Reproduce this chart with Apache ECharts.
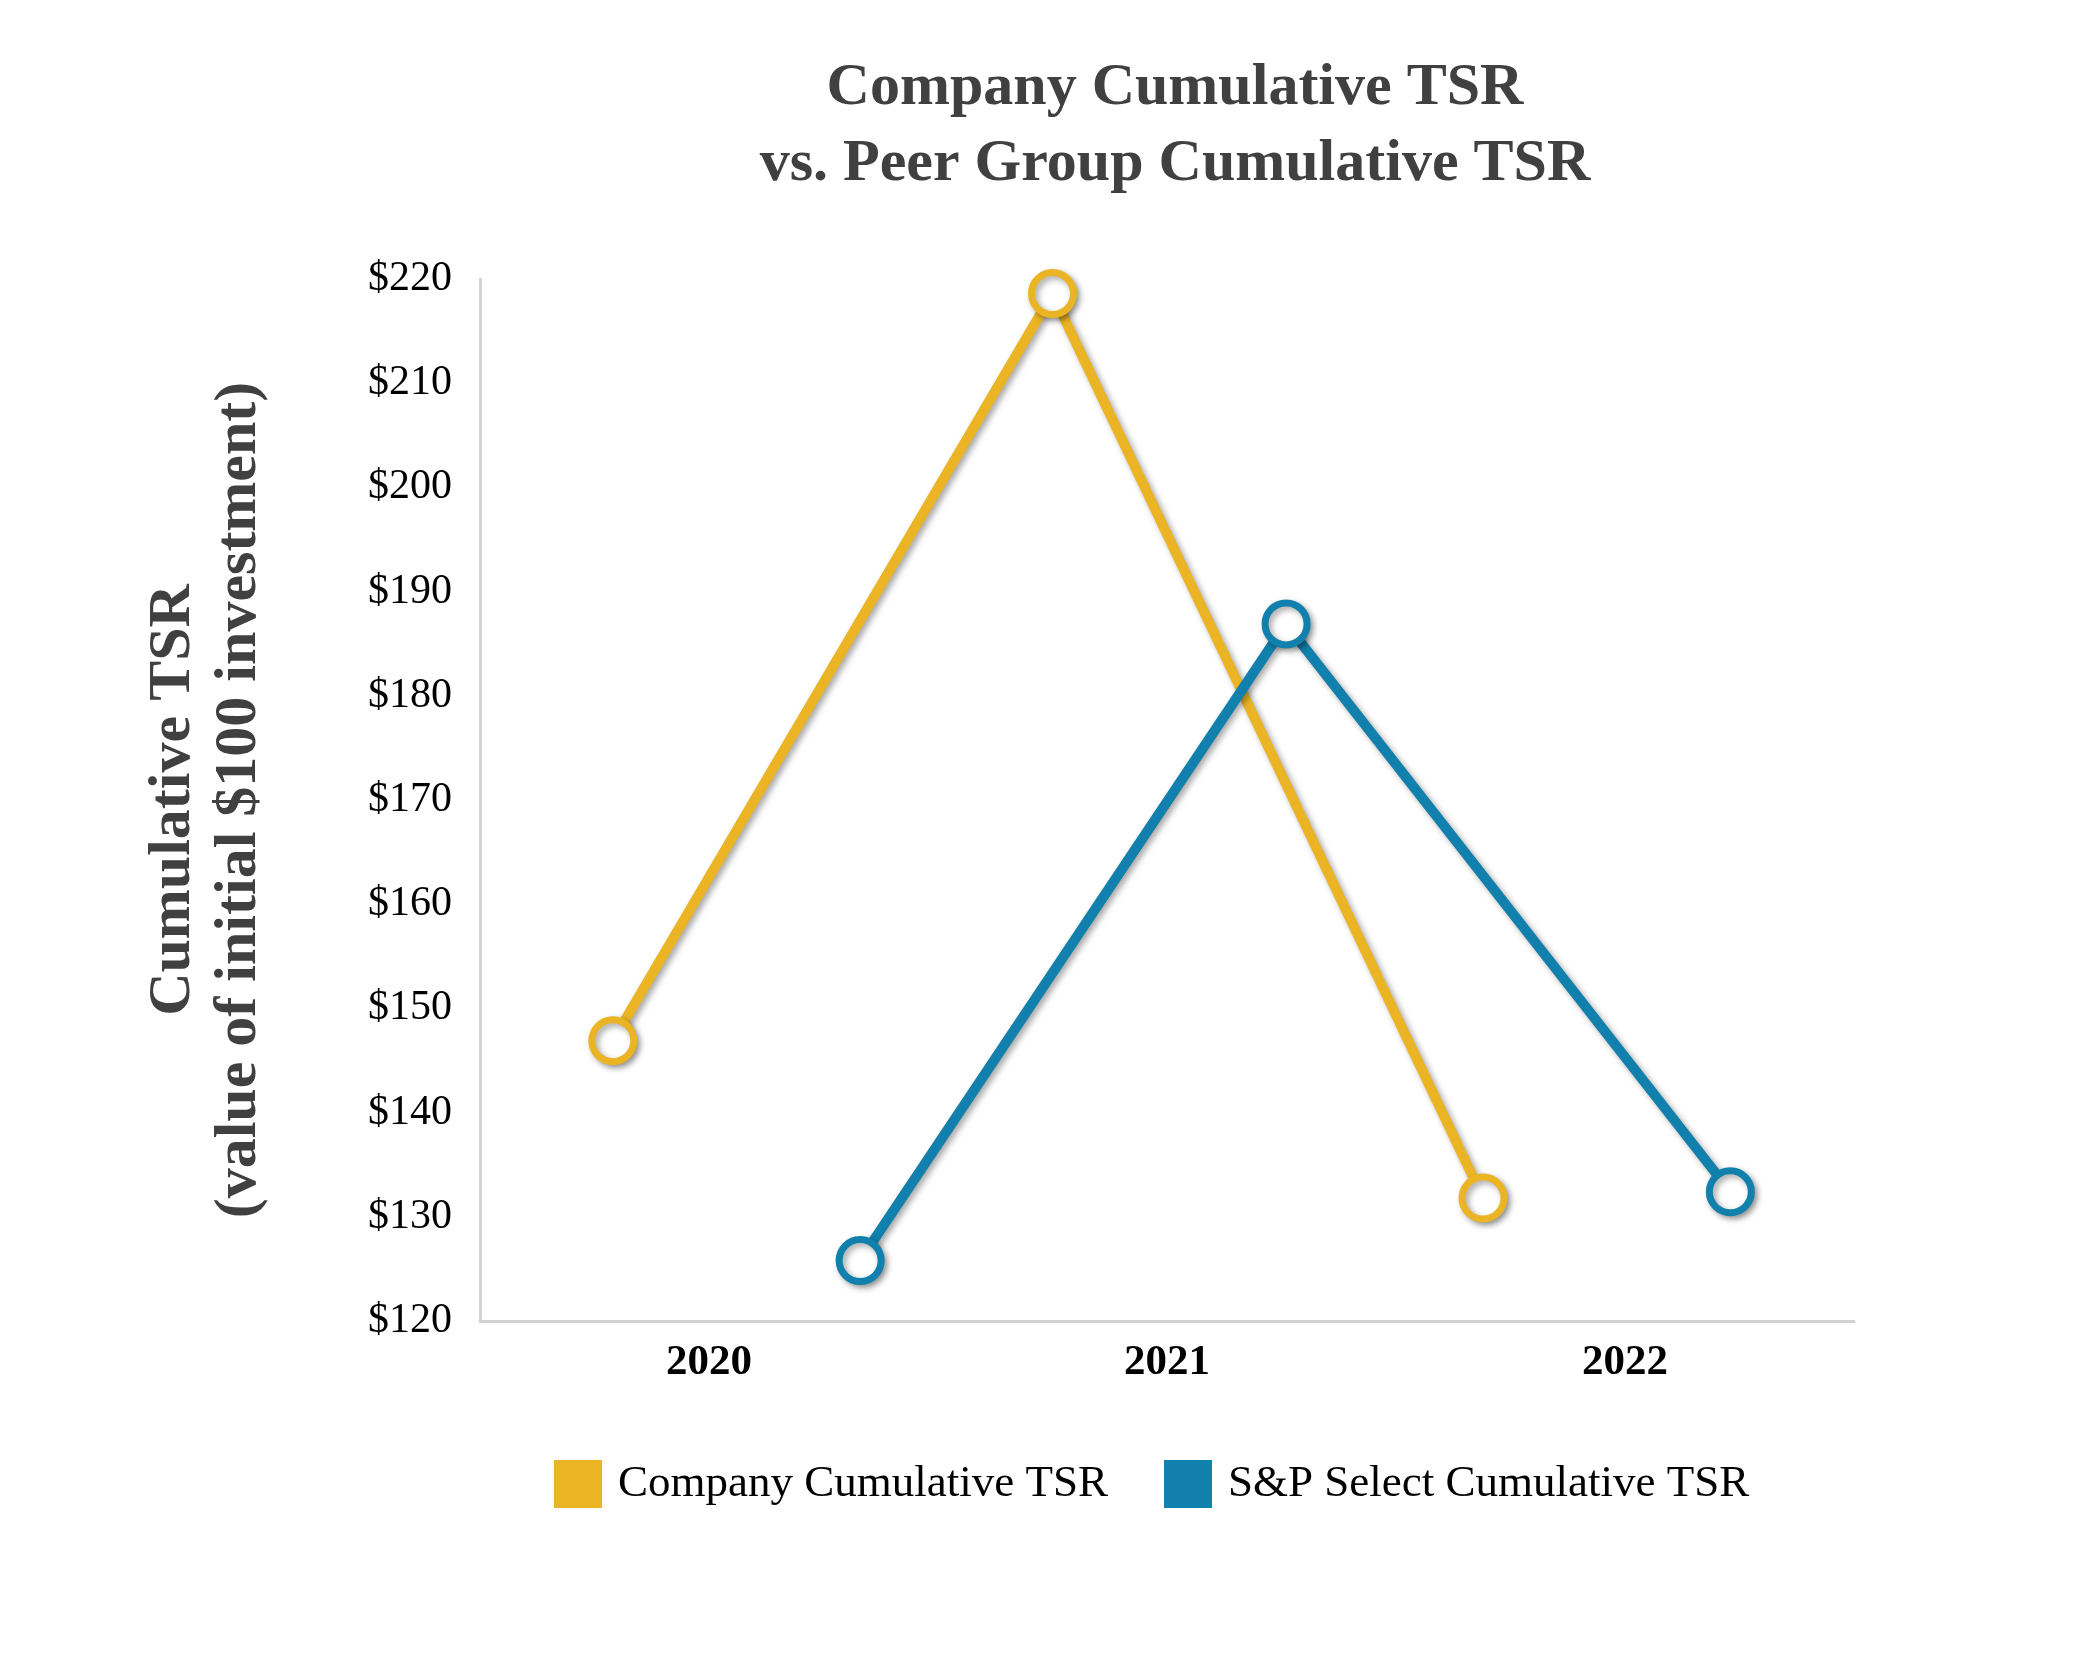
<!DOCTYPE html>
<html>
<head>
<meta charset="utf-8">
<script src="https://cdn.jsdelivr.net/npm/echarts@6/dist/echarts.min.js"></script>
<style>
html,body{margin:0;padding:0;background:#fff;}
#chart{width:2085px;height:1656px;}
</style>
</head>
<body>
<div id="chart"></div>
<script>
// ---- data ----
const years = ['2020', '2021', '2022'];
const companyName = 'Company Cumulative TSR';
const spName = 'S&P Select Cumulative TSR';
const companyTSR = [146.9, 218.6, 131.8];
const spTSR = [125.8, 186.9, 132.4];
// horizontal placement of each point, in category units (0 = 2020, 1 = 2021, 2 = 2022)
const companyX = [-0.21, 0.75, 1.69];
const spX = [0.33, 1.26, 2.23];
const yTicks = [120, 220, 10]; // min, max, step

const gold = '#EBB424';
const blue = '#1180AC';
const serif = '"Liberation Serif", "Times New Roman", serif';

const chart = echarts.init(document.getElementById('chart'), null, {renderer: 'canvas'});

function pairs(xs, ys) { return xs.map((x, i) => [x, ys[i]]); }

const shadow = {shadowColor: 'rgba(0,0,0,0.35)', shadowBlur: 6, shadowOffsetX: 3, shadowOffsetY: 3};

chart.setOption({
  backgroundColor: '#ffffff',
  animation: false,
  title: {
    text: 'Company Cumulative TSR\nvs. Peer Group Cumulative TSR',
    left: 1170, top: 45, textAlign: 'center',
    textStyle: {fontFamily: serif, fontWeight: 'bold', fontSize: 60, lineHeight: 76, color: '#404040'}
  },
  legend: {
    left: 549, top: 1455,
    itemWidth: 48, itemHeight: 48, itemGap: 56,
    icon: 'rect',
    textStyle: {fontFamily: serif, fontSize: 45, color: '#000', padding: [0, 0, 0, 11]},
    data: [
      {name: companyName, itemStyle: {color: gold, borderWidth: 0, shadowBlur: 0, shadowOffsetX: 0, shadowOffsetY: 0}},
      {name: spName, itemStyle: {color: blue, borderWidth: 0, shadowBlur: 0, shadowOffsetX: 0, shadowOffsetY: 0}}
    ]
  },
  grid: {left: 480, right: 231, top: 279, bottom: 335, containLabel: false},
  xAxis: [
    {
      type: 'category', data: years, boundaryGap: true,
      axisLine: {show: true, onZero: false, lineStyle: {color: '#d3d3d3', width: 3}},
      axisTick: {show: false},
      axisLabel: {fontFamily: serif, fontWeight: 'bold', fontSize: 43, color: '#000', margin: 20},
      splitLine: {show: false}
    },
    {
      type: 'value', min: -0.5, max: 2.5, show: false,
      axisLine: {onZero: false},
      splitLine: {show: false}
    }
  ],
  yAxis: {
    type: 'value', min: yTicks[0], max: yTicks[1], interval: yTicks[2],
    axisLine: {show: true, onZero: false, lineStyle: {color: '#d3d3d3', width: 3}},
    axisTick: {show: false},
    splitLine: {show: false},
    axisLabel: {fontFamily: serif, fontSize: 42, color: '#000', margin: 28, formatter: v => '$' + v},
    name: 'Cumulative TSR\n(value of initial $100 investment)',
    nameLocation: 'middle', nameRotate: 90, nameGap: 208,
    nameTextStyle: {fontFamily: serif, fontWeight: 'bold', fontSize: 60, lineHeight: 66, color: '#404040'}
  },
  series: [
    {
      name: companyName, type: 'line', xAxisIndex: 1,
      data: pairs(companyX, companyTSR),
      symbol: 'circle', symbolSize: 42, showAllSymbol: true,
      lineStyle: Object.assign({color: gold, width: 10}, shadow),
      itemStyle: Object.assign({color: '#fff', borderColor: gold, borderWidth: 7}, shadow),
      z: 2
    },
    {
      name: spName, type: 'line', xAxisIndex: 1,
      data: pairs(spX, spTSR),
      symbol: 'circle', symbolSize: 42, showAllSymbol: true,
      lineStyle: Object.assign({color: blue, width: 10}, shadow),
      itemStyle: Object.assign({color: '#fff', borderColor: blue, borderWidth: 7}, shadow),
      z: 3
    }
  ]
});
</script>
</body>
</html>
